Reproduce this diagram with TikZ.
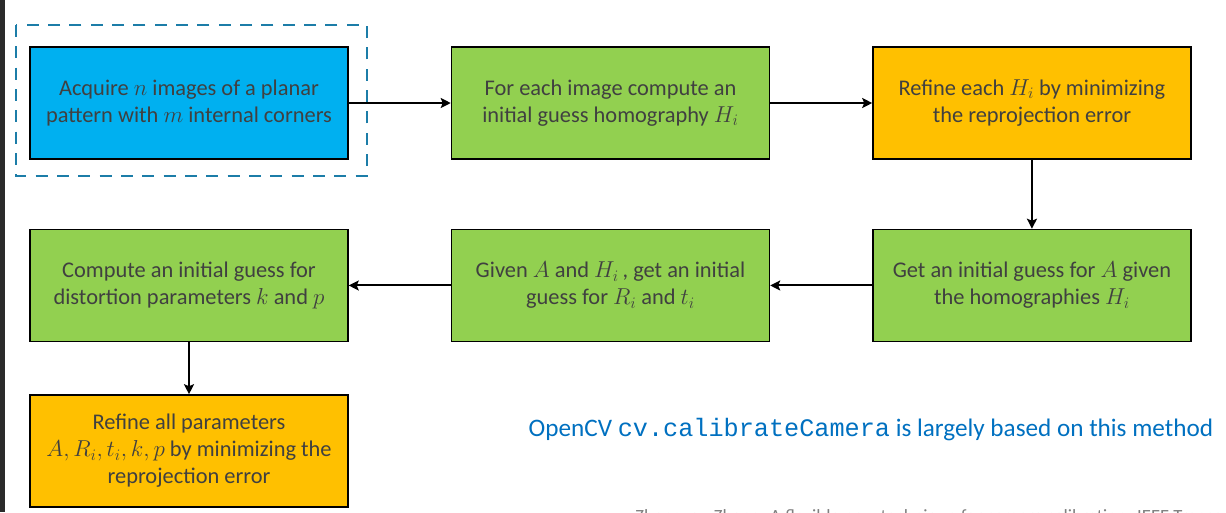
\documentclass[tikz,border=0pt]{standalone}
\usepackage{fontspec}
\setmainfont{Carlito}
\setmonofont{Liberation Mono}
\usetikzlibrary{positioning,arrows.meta}

\definecolor{boxblue}{HTML}{00B0F0}
\definecolor{boxgreen}{HTML}{92D050}
\definecolor{boxorange}{HTML}{FFC000}
\definecolor{textgray}{HTML}{404040}
\definecolor{dashblue}{HTML}{1C7DA8}
\definecolor{noteblue}{HTML}{0070C0}
\definecolor{citegray}{HTML}{808080}
\definecolor{edgegray}{HTML}{2B2B2B}

\begin{document}
\begin{tikzpicture}[x=0.75pt,y=-0.75pt,node distance=76.5pt,
                >={Stealth[length=7.5pt,width=7.5pt,inset=1.5pt]},
                calib box/.style={draw=black,line width=1.1pt,minimum width=238.5pt,
                  minimum height=84pt,align=center,text=textgray,
                  font=\fontsize{16.8}{20.3}\selectfont}]

	\useasboundingbox (0,0) rectangle (1226,512);
	\fill[edgegray] (0,0) rectangle (5,512);

	\node[calib box,fill=boxblue] (acquire) at (189,103) {Acquire $n$ images of a planar\\pattern with $m$ internal corners};
	\node[calib box,fill=boxgreen] (homog) [right=of acquire] {For each image compute an\\initial guess homography $H_i$};
	\node[calib box,fill=boxorange] (refineh) [right=of homog] {Refine each $H_i$ by minimizing\\the reprojection error};
	\node[calib box,fill=boxgreen] (intrin) [below=51.75pt of refineh] {Get an initial guess for $A$ given\\the homographies $H_i$};
	\node[calib box,fill=boxgreen] (extrin) [left=of intrin] {Given $A$ and $H_i$\,, get an initial\\guess for $R_i$ and $t_i$};
	\node[calib box,fill=boxgreen] (distort) [left=of extrin] {Compute an initial guess for\\distortion parameters $k$ and $p$};
	\node[calib box,fill=boxorange] (refineall) [below=39pt of distort] {Refine all parameters\\$A, R_i, t_i, k, p$ by minimizing the\\reprojection error};

	% dashed frame round the first step
	\draw[dashblue,line width=2.2pt,dash pattern=on 9pt off 7pt] (16,25) rectangle (367,176);

	\path[->,draw,line width=1.5pt]
	(acquire) edge (homog)
	(homog) edge (refineh)
	(refineh) edge (intrin)
	(intrin) edge (extrin)
	(extrin) edge (distort)
	(distort) edge (refineall)
	;

	\node[anchor=west,text=noteblue,font=\fontsize{18.9}{22}\selectfont] (note) at (524,430)
	  {OpenCV \texttt{cv.calibrateCamera} is largely based on this method};

	\begin{scope}
	\clip (0,0) rectangle (1226,512);
	\node[anchor=base west,inner sep=0pt,text=citegray,font=\fontsize{14}{16}\selectfont] (cite) at (635,522)
	  {Zhengyou Zhang. A flexible new technique for camera calibration. IEEE Transactions};
	\end{scope}
\end{tikzpicture}
\end{document}
